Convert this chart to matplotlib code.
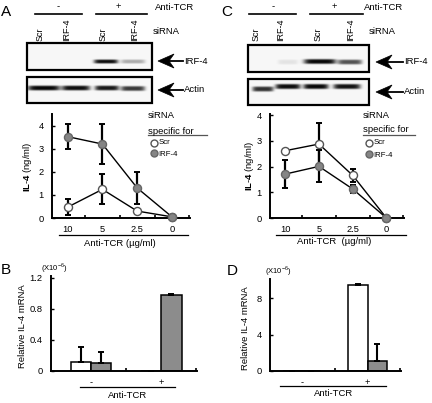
import numpy as np
import matplotlib
matplotlib.use("Agg")
import matplotlib.pyplot as plt
from matplotlib.patches import Rectangle, Polygon

plt.rcParams["font.family"] = ["Liberation Sans", "DejaVu Sans"]
plt.rcParams["mathtext.fontset"] = "custom"
plt.rcParams["mathtext.rm"] = "Liberation Sans"
plt.rcParams["mathtext.bf"] = "Liberation Sans:bold"

W, H = 432, 403
FS = 6.8

# ---- data ----
doses = ["10", "5", "2.5", "0"]
lanes = ["Scr", "IRF-4", "Scr", "IRF-4"]
tcr_groups = ["-", "+"]

# IL-4 protein (ng/ml), panel A
a_scr = [0.47, 1.24, 0.30, 0.05]
a_scr_err = [0.35, 0.65, 0.10, 0.0]
a_irf = [3.52, 3.20, 1.30, 0.05]
a_irf_err = [0.53, 0.88, 0.68, 0.0]

# IL-4 protein (ng/ml), panel C
c_scr = [2.62, 2.88, 1.66, 0.0]
c_scr_err = [0.04, 0.82, 0.25, 0.0]
c_irf = [1.71, 2.01, 1.13, 0.0]
c_irf_err = [0.55, 0.62, 0.17, 0.0]

# relative IL-4 mRNA (x10^-6), panels B and D
b_scr = [0.12, 0.0]
b_scr_err = [0.19, 0.004]
b_irf = [0.10, 0.98]
b_irf_err = [0.15, 0.01]

d_scr = [0.0, 9.40]
d_scr_err = [0.04, 0.15]
d_irf = [0.0, 1.10]
d_irf_err = [0.04, 1.85]

# western blot band intensity per lane (0 = none, 1 = black)
a_irf_band = [0.0, 0.0, 0.92, 0.30]
a_actin_band = [0.95, 0.92, 0.88, 0.75]
c_irf_band = [0.0, 0.08, 0.95, 0.65]
c_actin_band = [0.78, 0.92, 0.94, 0.9]


def px_axes(fig, l, r, t, b):
    return fig.add_axes([l / W, 1 - b / H, (r - l) / W, (b - t) / H])


def blot(ov, box, bands, centers, halfw, ys, sy):
    x0, x1, y0, y1 = box
    xs = np.arange(x0, x1, 0.5) + 0.25
    yy = np.arange(y0, y1, 0.5) + 0.25
    X, Y = np.meshgrid(xs, yy)
    dark = np.zeros_like(X)
    for inten, cx, hw, cy in zip(bands, centers, halfw, ys):
        dark += inten * np.exp(-((X - cx) / hw) ** 6) * np.exp(-((Y - cy) / sy) ** 4)
    img = 0.97 - np.clip(dark, 0, 0.97)
    ov.imshow(img, cmap="gray", vmin=0, vmax=1, extent=[x0, x1, y1, y0],
              aspect="auto", interpolation="bilinear")
    ov.add_patch(Rectangle((x0, y0), x1 - x0, y1 - y0, fill=False, lw=1.6, ec="black"))


def arrow(ov, xt, y, xe, label):
    ov.add_patch(Polygon([(xt, y), (xt + 16, y - 7), (xt + 11, y), (xt + 16, y + 7)],
                         closed=True, fc="black", ec="black", lw=0.5))
    ov.plot([xt + 11, xe], [y, y], color="black", lw=1.3)
    ov.text(xe + 1, y, label, ha="left", va="center", fontsize=FS)


def header(ov, letter, lx, minus_x, plus_x, line_m, line_p, tcr_x, lane_x, sirna_x):
    ov.text(lx, 12, letter, ha="left", va="center", fontsize=11)
    ov.text(minus_x, 7, "-", ha="center", va="center", fontsize=FS)
    ov.text(plus_x, 7, "+", ha="center", va="center", fontsize=FS)
    ov.plot(line_m, [14, 14], color="black", lw=1.2)
    ov.plot(line_p, [14, 14], color="black", lw=1.2)
    ov.text(tcr_x, 8, "Anti-TCR", ha="left", va="center", fontsize=FS)
    for x, name in zip(lane_x, lanes):
        ov.text(x, 41, name, rotation=90, ha="center", va="bottom", fontsize=6.5)
    ov.text(sirna_x, 31, "siRNA", ha="left", va="center", fontsize=FS)


def style_axes(ax):
    for s in ["top", "right"]:
        ax.spines[s].set_visible(False)
    for s in ["left", "bottom"]:
        ax.spines[s].set_linewidth(1.4)
    ax.patch.set_alpha(0)


def dose_plot(ax, scr, scr_err, irf, irf_err, ytop, yticks):
    x = np.arange(len(doses))
    ax.errorbar(x, irf, yerr=irf_err, fmt="none", ecolor="black", elinewidth=1.6,
                capsize=2, capthick=1.4, zorder=2)
    ax.errorbar(x, scr, yerr=scr_err, fmt="none", ecolor="black", elinewidth=1.6,
                capsize=2, capthick=1.4, zorder=2)
    ax.plot(x, scr, "-o", color="black", lw=1.0, mfc="white", mec="#555555",
            ms=5.8, zorder=3, clip_on=False)
    ax.plot(x, irf, "-o", color="black", lw=1.0, mfc="#858585", mec="#666666",
            ms=5.8, zorder=4, clip_on=False)
    ax.set_xlim(-0.45, 3.52)
    ax.set_ylim(0, ytop)
    ax.set_xticks(x)
    ax.set_xticklabels(doses)
    ax.set_xticks(x + 0.5, minor=True)
    ax.tick_params(axis="x", which="major", length=0, pad=5, labelsize=6.7)
    ax.tick_params(axis="x", which="minor", direction="in", length=2.5, width=1.2)
    ax.set_yticks(yticks)
    ax.tick_params(axis="y", direction="in", length=2, width=1, pad=6, labelsize=6.7)
    style_axes(ax)


def bar_plot(ax, scr, scr_err, irf, irf_err, ytop, yticks, ylabels, xlim_left):
    x = np.arange(len(tcr_groups))
    w = 0.29
    ekw = dict(elinewidth=1.5, capsize=2, capthick=1.4, ecolor="black")
    ax.bar(x - w / 2, scr, w, color="white", edgecolor="black", lw=1.1,
           yerr=[np.zeros(len(x)), scr_err], error_kw=ekw)
    ax.bar(x + w / 2, irf, w, color="#8c8c8c", edgecolor="black", lw=1.1,
           yerr=[np.zeros(len(x)), irf_err], error_kw=ekw)
    ax.set_xlim(xlim_left, 1.51)
    ax.set_ylim(0, ytop)
    ax.set_xticks(x)
    ax.set_xticklabels(tcr_groups)
    ax.set_xticks([0.5, 1.5], minor=True)
    ax.tick_params(axis="x", which="major", length=0, pad=5, labelsize=6.7)
    ax.tick_params(axis="x", which="minor", direction="in", length=2.5, width=1.2)
    ax.set_yticks(yticks)
    ax.set_yticklabels(ylabels)
    ax.tick_params(axis="y", direction="in", length=2, width=1, pad=6, labelsize=6.7)
    style_axes(ax)


def legend(ov, x, y_sirna, y_spec, y_line, x_line_end, y_scr, y_irf):
    ov.text(x, y_sirna, "siRNA", ha="left", va="center", fontsize=FS)
    ov.text(x, y_spec, "specific for", ha="left", va="center", fontsize=FS)
    ov.plot([x, x_line_end], [y_line, y_line], color="#555555", lw=0.9)
    ov.plot([x + 5.5], [y_scr], "o", mfc="white", mec="#555555", ms=5)
    ov.plot([x + 5.5], [y_irf], "o", mfc="#858585", mec="#666666", ms=5)
    ov.text(x + 10.5, y_scr, "Scr", ha="left", va="center", fontsize=5.6)
    ov.text(x + 10.5, y_irf + 1.5, "IRF-4", ha="left", va="center", fontsize=5.6)


fig = plt.figure(figsize=(W / 100, H / 100), dpi=100)

ax_a = px_axes(fig, 52, 190, 114, 218)
ax_c = px_axes(fig, 270, 404, 114, 218)
ax_b = px_axes(fig, 51, 197, 276, 371)
ax_d = px_axes(fig, 270, 401, 279, 371)

dose_plot(ax_a, a_scr, a_scr_err, a_irf, a_irf_err, 4.5, [0, 1, 2, 3, 4])
dose_plot(ax_c, c_scr, c_scr_err, c_irf, c_irf_err, 4.05, [0, 1, 2, 3, 4])
bar_plot(ax_b, b_scr, b_scr_err, b_irf, b_irf_err, 1.22,
         [0, 0.4, 0.8, 1.2], ["0", "0.4", "0.8", "1.2"], -0.57)
bar_plot(ax_d, d_scr, d_scr_err, d_irf, d_irf_err, 10.1,
         [0, 4, 8], ["0", "4", "8"], -0.485)

# overlay in pixel coordinates for blots and annotations
ov = fig.add_axes([0, 0, 1, 1])
ov.patch.set_alpha(0)
ov.axis("off")

# panel A blots
header(ov, "A", 1, 58, 118, [35, 82], [96, 147], 155, [40, 67, 103, 135], 153)
blot(ov, (27, 152, 43, 70), a_irf_band, [44, 76, 106, 133], [15, 13, 12, 12],
     [61.5] * 4, 2.0)
blot(ov, (27, 152, 77, 103), a_actin_band, [44, 76, 107, 133], [16, 14, 12, 12],
     [88, 88, 88, 88.5], 2.4)
arrow(ov, 158, 61, 183, "IRF-4")
arrow(ov, 158, 90, 183, "Actin")

# panel C blots
header(ov, "C", 221, 273, 334, [249, 296], [310, 363], 364, [256, 281, 318, 351], 369)
blot(ov, (248, 369, 45, 72), c_irf_band, [263, 288, 320, 350], [10, 10, 16, 12],
     [62, 62, 61.5, 62], 2.4)
blot(ov, (248, 369, 79, 105), c_actin_band, [263, 288, 316, 347], [10.5, 12.5, 12.5, 13.5],
     [89, 86.5, 86.5, 86.5], 2.5)
arrow(ov, 376, 62, 403, "IRF-4")
arrow(ov, 376, 92, 403, "Actin")

# plot legends and axis labels
legend(ov, 148, 115, 131, 135, 207, 143, 153)
legend(ov, 363, 115, 130, 135, 415, 143, 154)

ov.plot([59, 188], [235, 235], color="black", lw=0.9)
ov.text(120, 243, "Anti-TCR (µg/ml)", ha="center", va="center", fontsize=FS)
ov.plot([276, 406], [235, 235], color="black", lw=0.9)
ov.text(334, 242, "Anti-TCR  (µg/ml)", ha="center", va="center", fontsize=FS)
ov.text(27, 167, r"$\mathbf{IL}$-$\mathbf{4}$ (ng/ml)", rotation=90,
        ha="center", va="center", fontsize=FS)
ov.text(249, 166, r"$\mathbf{IL}$-$\mathbf{4}$ (ng/ml)", rotation=90,
        ha="center", va="center", fontsize=FS)

# panels B and D annotations
ov.text(1, 270, "B", ha="left", va="center", fontsize=11)
ov.text(227, 271, "D", ha="left", va="center", fontsize=11)
ov.text(54, 268, r"(X10$^{-6}$)", ha="center", va="center", fontsize=5.5)
ov.text(278, 271, r"(X10$^{-6}$)", ha="center", va="center", fontsize=5.5)
ov.text(23, 326, "Relative IL-4 mRNA", rotation=90, ha="center", va="center", fontsize=FS)
ov.text(245, 328, "Relative IL-4 mRNA", rotation=90, ha="center", va="center", fontsize=FS)
ov.plot([80, 175], [387, 387], color="black", lw=0.9)
ov.text(128, 396, "Anti-TCR", ha="center", va="center", fontsize=FS)
ov.plot([280, 386], [386, 386], color="black", lw=0.9)
ov.text(334, 394, "Anti-TCR", ha="center", va="center", fontsize=FS)

ov.set_xlim(0, W)
ov.set_ylim(H, 0)

fig.savefig("out.png", dpi=100)
